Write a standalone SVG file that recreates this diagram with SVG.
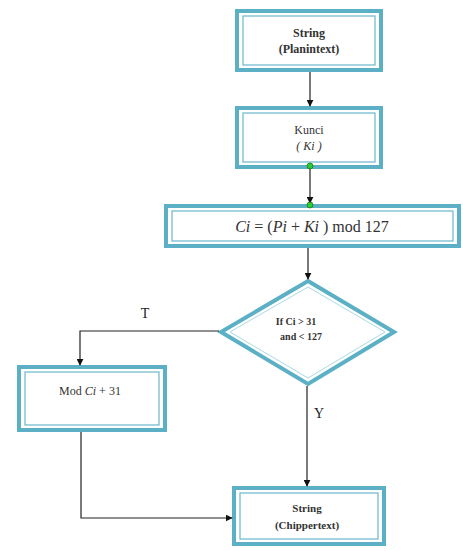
<svg xmlns="http://www.w3.org/2000/svg" width="463" height="551" viewBox="0 0 463 551">
<defs>
<marker id="ah" viewBox="0 0 10 10" refX="9" refY="5" markerWidth="7" markerHeight="7" orient="auto" markerUnits="userSpaceOnUse">
<path d="M0,0 L10,5 L0,10 z" fill="#111"/>
</marker>
</defs>
<style>
.outer{fill:#fff;stroke:#5bb0c6;stroke-width:4}
.inner{fill:none;stroke:#6ab8cc;stroke-width:1.2}
.t{font-family:'Liberation Serif',serif;font-size:12px;font-weight:bold;fill:#333;text-anchor:middle}
.n{font-weight:normal}
.i{font-style:italic}
.lbl{font-family:'Liberation Serif',serif;font-size:14px;fill:#222;text-anchor:middle}
.c{fill:none;stroke:#222;stroke-width:1.2}
.dot{fill:#2ecc2e;stroke:#1a7a1a;stroke-width:0.8}
</style>
<rect width="463" height="551" fill="#fff"/>
<g id="n1">
<rect class="outer" x="237" y="11" width="144" height="59"/>
<rect class="inner" x="243" y="16" width="132" height="49"/>
<text class="t" x="309" y="37">String</text>
<text class="t" x="309" y="53">(Planintext)</text>
</g>
<g id="n2">
<rect class="outer" x="237" y="108" width="144" height="59"/>
<rect class="inner" x="243" y="113" width="132" height="49"/>
<text class="t n" x="309" y="134">Kunci</text>
<text class="t n i" x="309" y="150">( Ki )</text>
</g>
<g id="n3">
<rect class="outer" x="166" y="206" width="293" height="40"/>
<rect class="inner" x="172" y="211" width="281" height="30"/>
<text class="t n" x="312" y="232" style="font-size:16px"><tspan class="i">Ci</tspan> = (<tspan class="i">Pi</tspan> + <tspan class="i">Ki</tspan> ) mod 127</text>
</g>
<g id="n4">
<polygon points="308,281 394,332 308,384 221,332" fill="#fff" stroke="#5bb0c6" stroke-width="4"/>
<polygon points="308,287 385,332 308,378 230,332" fill="none" stroke="#a9d9e6" stroke-width="1"/>
<text class="t" x="296" y="325" style="font-size:10px">If Ci &gt; 31</text>
<text class="t" x="301" y="340" style="font-size:10px">and  &lt; 127</text>
</g>
<g id="n5">
<rect class="outer" x="19" y="367" width="146" height="63"/>
<rect class="inner" x="25" y="372" width="134" height="53"/>
<text class="t n" x="90" y="395">Mod <tspan class="i">Ci</tspan> + 31</text>
</g>
<g id="n6">
<rect class="outer" x="234" y="488" width="150" height="56"/>
<rect class="inner" x="240" y="493" width="138" height="46"/>
<text class="t" x="307" y="512" style="font-size:11px">String</text>
<text class="t" x="307" y="529" style="font-size:11px">(Chippertext)</text>
</g>
<g id="connectors">
<line class="c" x1="310" y1="72" x2="310" y2="106" marker-end="url(#ah)"/>
<line class="c" x1="310" y1="166" x2="310" y2="203" marker-end="url(#ah)"/>
<line class="c" x1="308" y1="248" x2="308" y2="279" marker-end="url(#ah)"/>
<polyline class="c" points="219,331 80,331 80,365" marker-end="url(#ah)"/>
<line class="c" x1="307" y1="386" x2="307" y2="486" marker-end="url(#ah)"/>
<polyline class="c" points="81,432 81,518 232,518" marker-end="url(#ah)"/>
<circle class="dot" cx="310" cy="166" r="3"/>
<circle class="dot" cx="310" cy="205" r="3"/>
<text class="lbl" x="145" y="318">T</text>
<text class="lbl" x="319" y="418">Y</text>
</g>
</svg>
